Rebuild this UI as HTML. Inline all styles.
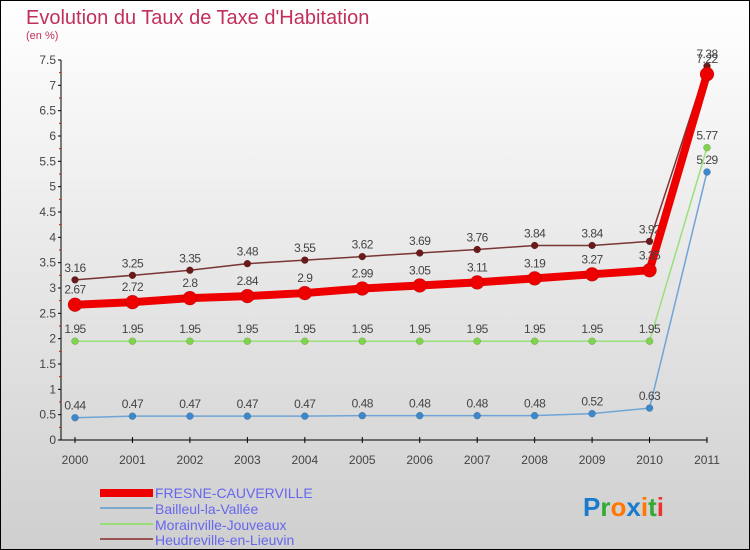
<!DOCTYPE html>
<html><head><meta charset="utf-8"><style>
body{margin:0;}
#c{width:750px;height:550px;position:relative;overflow:hidden;}
text{font-family:"Liberation Sans",sans-serif;}
</style></head><body>
<div id="c">
<svg id="s" width="750" height="550" xmlns="http://www.w3.org/2000/svg">
<defs><linearGradient id="bg" x1="0" y1="0" x2="0" y2="1"><stop offset="0" stop-color="#ffffff"/><stop offset="1" stop-color="#cfcfcf"/></linearGradient></defs>
<rect x="0.5" y="0.5" width="749" height="549" fill="url(#bg)" stroke="#000"/>
<text x="26" y="24" font-size="20" fill="#c0305a">Evolution du Taux de Taxe d'Habitation</text>
<text x="26" y="39" font-size="11" fill="#c0305a">(en %)</text>
<g id="axes"></g><g id="series"></g>
<g>
<rect x="100" y="489" width="53" height="8" fill="#e00"/>
<text x="155" y="498" font-size="14" fill="#6666ee">FRESNE-CAUVERVILLE</text>
<rect x="100" y="507" width="53" height="2" fill="#7aaad0"/>
<text x="155" y="514" font-size="14" fill="#6666ee">Bailleul-la-Vallée</text>
<rect x="100" y="523" width="53" height="2" fill="#99dd77"/>
<text x="155" y="530" font-size="14" fill="#6666ee">Morainville-Jouveaux</text>
<rect x="100" y="538" width="53" height="2" fill="#995555"/>
<text x="155" y="545" font-size="14" fill="#6666ee">Heudreville-en-Lieuvin</text>
</g>
<text x="583" y="516" font-size="26" font-weight="bold"><tspan fill="#1a7acc">P</tspan><tspan fill="#33aa33">r</tspan><tspan fill="#ff7700">o</tspan><tspan fill="#1a7acc">x</tspan><tspan fill="#ff7700">i</tspan><tspan fill="#33aa33">t</tspan><tspan fill="#ee3333">i</tspan></text>
</svg></div>
<script>
const years=[2000,2001,2002,2003,2004,2005,2006,2007,2008,2009,2010,2011];
const yTicks=[0,0.5,1,1.5,2,2.5,3,3.5,4,4.5,5,5.5,6,6.5,7,7.5];
const fresne=[2.67,2.72,2.8,2.84,2.9,2.99,3.05,3.11,3.19,3.27,3.35,7.22];
const bailleul=[0.44,0.47,0.47,0.47,0.47,0.48,0.48,0.48,0.48,0.52,0.63,5.29];
const morainville=[1.95,1.95,1.95,1.95,1.95,1.95,1.95,1.95,1.95,1.95,1.95,5.77];
const heudreville=[3.16,3.25,3.35,3.48,3.55,3.62,3.69,3.76,3.84,3.84,3.92,7.38];
const NS="http://www.w3.org/2000/svg";
const xs=i=>75+i*(707-75)/(years.length-1);
const ys=v=>440-v*(380/7.5);
function mk(tag,at,par){const e=document.createElementNS(NS,tag);for(const k in at)e.setAttribute(k,at[k]);par.appendChild(e);return e;}
const ax=document.getElementById('axes');
let a=mk('line',{x1:61,y1:ys(7.5),x2:61,y2:440,stroke:'#000'},ax);


a=mk('line',{x1:61,y1:440,x2:707,y2:440,stroke:'#000'},ax);


yTicks.forEach((v,i)=>{
  const y=ys(v);
  mk('line',{x1:58,y1:y,x2:61,y2:y,stroke:'#000'},ax);
  if(i<yTicks.length-1)mk('line',{x1:59,y1:ys(v+0.25),x2:61,y2:ys(v+0.25),stroke:'#e00'},ax);
  const t=mk('text',{x:56,y:y+4,'font-size':12,fill:'#444','text-anchor':'end'},ax);t.textContent=String(v);
  
  
});
years.forEach((yr,i)=>{
  const x=xs(i);
  mk('line',{x1:x,y1:437,x2:x,y2:443,stroke:'#000'},ax);
  const t=mk('text',{x:x,y:464,'font-size':12,fill:'#444','text-anchor':'middle'},ax);t.textContent=yr;
  
  
});
const sg=document.getElementById('series');
function draw(data,color,w,r,dot,name,lblAbove){
  const g=mk('g',{},sg);
  
  
  const pl=mk('polyline',{points:data.map((v,i)=>xs(i)+','+ys(v)).join(' '),fill:'none',stroke:color,'stroke-width':w,'stroke-linejoin':'round'},g);
  
  
  data.forEach((v,i)=>{
    const c=mk('circle',{cx:xs(i),cy:ys(v),r:r,fill:dot,stroke:'rgba(0,0,0,0.25)','stroke-width':0.5},g);
    
    
    const t=mk('text',{x:xs(i),y:ys(v)-lblAbove,'font-size':12,fill:'#444','text-anchor':'middle','letter-spacing':'-0.5'},g);
    t.textContent=String(v);
    
    
  });
}
draw(bailleul,'#6fa5d6',1.5,3.5,'#3d88cc','series-bailleul',8);
draw(morainville,'#99e07a',1.5,3.5,'#7fd44d','series-morainville',8);
draw(heudreville,'#7a3535',1.5,3.5,'#6a1a1a','series-heudreville',8);
draw(fresne,'#ee0000',8,7,'#ee0000','series-fresne',11);
</script>
</body></html>
